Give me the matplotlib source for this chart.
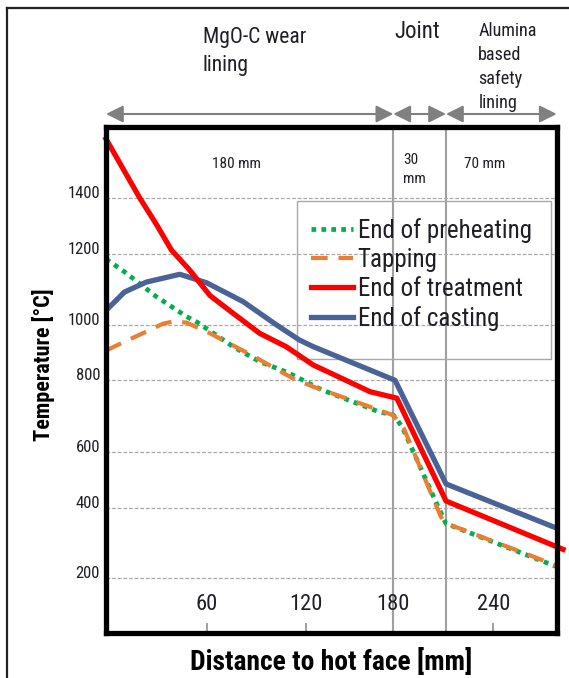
import numpy as np
import matplotlib
matplotlib.use('Agg')
import matplotlib.pyplot as plt
from matplotlib import font_manager as fm
from matplotlib.lines import Line2D
from matplotlib.patches import Rectangle

# ---------------- font ----------------
_available = {f.name for f in fm.fontManager.ttflist}
_narrow = [n for n in ['Roboto Condensed', 'Liberation Sans Narrow', 'Arial Narrow'] if n in _available]
if _narrow:
    BASE_FONT, FS = _narrow[0], 1.0
else:
    BASE_FONT, FS = 'Liberation Sans', 0.83
plt.rcParams['font.family'] = [BASE_FONT, 'DejaVu Sans']

# ---------------- data ----------------
DIST_TREATMENT = [0, 10, 20, 30, 39, 50, 62, 76, 92, 108, 125, 145, 164, 182, 210, 284]
TEMP_TREATMENT = [1610, 1505, 1400, 1305, 1213, 1153, 1082, 1032, 969, 921, 855, 806, 768, 750, 424, 282]

DIST_CASTING = [0, 11, 24, 44, 60, 82, 102, 116, 125, 181, 210, 280]
TEMP_CASTING = [1040, 1092, 1120, 1142, 1118, 1065, 1000, 945, 921, 800, 485, 342]

DIST_PREHEAT = [0, 11, 30, 48, 55, 76, 92, 109, 131, 170, 180, 185, 205, 210, 280]
TEMP_PREHEAT = [1185, 1149, 1079, 1023, 1005, 921, 867, 828, 773, 712, 703, 670, 410, 355, 233]

DIST_TAPPING = [0, 9, 24, 34, 40, 48, 62, 87, 112, 125, 170, 180, 186, 207, 210, 280]
TEMP_TAPPING = [907, 933, 975, 1003, 1009, 1006, 969, 891, 807, 782, 717, 702, 665, 375, 356, 236]

SERIES_LABELS = ['End of preheating', 'Tapping', 'End of treatment', 'End of casting']

X_TICKS = [60, 120, 180, 240]
Y_TICKS = [200, 400, 600, 800, 1000, 1200, 1400]

LAYER_BOUNDS = [0, 180, 210, 280]
LAYER_NAMES = ['MgO-C wear\nlining', 'Joint', 'Alumina\nbased\nsafety\nlining']
LAYER_THICKNESS = ['180 mm', '30\nmm', '70 mm']

# ---------------- scale (the source graphic has uneven axis spacing) ----------------
W, H = 569, 678
X_ANCHOR_MM = [0, 60, 120, 180, 210, 280]
X_ANCHOR_PX = [106, 206.7, 306, 393.3, 446, 556.7]
Y_ANCHOR_T = [200, 400, 600, 800, 1000, 1200, 1400]
Y_ANCHOR_PX = [578.3, 507.7, 451.7, 380.3, 324.7, 253.7, 197.7]


def piecewise(src, dst):
    src = np.asarray(src, float)
    dst = np.asarray(dst, float)
    lo = (dst[1] - dst[0]) / (src[1] - src[0])
    hi = (dst[-1] - dst[-2]) / (src[-1] - src[-2])

    def f(v):
        v = np.asarray(v, float)
        out = np.interp(v, src, dst)
        out = np.where(v < src[0], dst[0] + (v - src[0]) * lo, out)
        out = np.where(v > src[-1], dst[-1] + (v - src[-1]) * hi, out)
        return out
    return f


x_fwd = piecewise(X_ANCHOR_MM, X_ANCHOR_PX)
x_inv = piecewise(X_ANCHOR_PX, X_ANCHOR_MM)
y_fwd = piecewise(Y_ANCHOR_T, -np.asarray(Y_ANCHOR_PX))
y_inv = piecewise(-np.asarray(Y_ANCHOR_PX), Y_ANCHOR_T)

AX_L, AX_R, AX_T, AX_B = 106, 556.7, 127, 633
AXW, AXH = AX_R - AX_L, AX_B - AX_T

fig = plt.figure(figsize=(W / 100, H / 100), dpi=100)
ax = fig.add_axes([AX_L / W, 1 - AX_B / H, AXW / W, AXH / H])
ax.set_facecolor('white')
ax.set_xscale('function', functions=(x_fwd, x_inv))
ax.set_yscale('function', functions=(y_fwd, y_inv))
ax.set_xlim(LAYER_BOUNDS[0], LAYER_BOUNDS[-1])
ax.set_ylim(float(y_inv(-AX_B)), float(y_inv(-AX_T)))

TXT = '#1e1e24'

# grid + layer boundaries
ax.set_yticks(Y_TICKS, labels=[str(v) for v in Y_TICKS], va='baseline')
ax.grid(axis='y', color='#a8a8a8', lw=0.9, ls=(0, (3, 1.5)), zorder=0)
for b in LAYER_BOUNDS[1:-1]:
    ax.axvline(b, color='#a0a0a0', lw=1.5, zorder=1)

# series
l_pre, = ax.plot(DIST_PREHEAT, TEMP_PREHEAT, color='#00B050', lw=3.4,
                 ls=(0, (1, 1.1)), dash_capstyle='butt', zorder=3)
l_tap, = ax.plot(DIST_TAPPING, TEMP_TAPPING, color='#ED7D31', lw=3.0,
                 ls=(0, (4, 2.6)), dash_capstyle='butt', zorder=4)
l_cast, = ax.plot(DIST_CASTING, TEMP_CASTING, color='#4A6396', lw=3.8, zorder=5,
                  solid_joinstyle='round')
l_treat, = ax.plot(DIST_TREATMENT, TEMP_TREATMENT, color='#FF0000', lw=3.8, zorder=6,
                   clip_on=False, solid_joinstyle='round')

# axes styling
for s in ax.spines.values():
    s.set_linewidth(3.8)
    s.set_color('black')
    s.set_zorder(7)

ax.set_xticks(X_TICKS, labels=[str(v) for v in X_TICKS])
ax.tick_params(axis='x', direction='in', length=7, width=1.4, color='#a0a0a0',
               labelsize=16.2 * FS, labelcolor=TXT, pad=-27.9)
ax.tick_params(axis='y', length=0, labelsize=12 * FS, labelcolor=TXT, pad=4.3)

ax.set_xlabel('Distance to hot face [mm]', fontsize=19.8 * FS, fontweight='bold',
              labelpad=11, color='black')
ax.set_ylabel('Temperature [°C]', fontsize=16 * FS, fontweight='bold', color='black')
ax.yaxis.set_label_coords((55 - AX_L) / AXW, (AX_B - 365) / AXH)

# legend
LEG_FS = 18 * FS
leg = ax.legend([l_pre, l_tap, l_treat, l_cast], SERIES_LABELS, loc='upper left',
                bbox_to_anchor=((310.7 - AX_L) / AXW, (AX_B - 218) / AXH),
                frameon=False, fontsize=LEG_FS, handlelength=42.6 / (LEG_FS / 0.72),
                handletextpad=0.17, labelspacing=0.2, borderpad=0, borderaxespad=0)
for t in leg.get_texts():
    t.set_color(TXT)
ax.add_patch(Rectangle(((296.7 - AX_L) / AXW, (AX_B - 359.3) / AXH),
                       (550.7 - 296.7) / AXW, (359.3 - 200.7) / AXH,
                       transform=ax.transAxes, fill=False, ec='#a8a8a8', lw=1.0, zorder=2))

# layer arrows above the axes
ARROW_Y = 1 - 114 / H
for a, b in zip(LAYER_BOUNDS[:-1], LAYER_BOUNDS[1:]):
    ax.annotate('', xy=(b, ARROW_Y), xytext=(a, ARROW_Y),
                xycoords=('data', 'figure fraction'), textcoords=('data', 'figure fraction'),
                annotation_clip=False,
                arrowprops=dict(arrowstyle='<|-|>', color='#808080', lw=1.5,
                                shrinkA=0, shrinkB=0, mutation_scale=26))


# layer names / thicknesses: one text per line, y = baselines in pixels from top
def ft(xpx, baselines, s, size):
    for line, ypx in zip(s.split('\n'), baselines):
        fig.text(xpx / W, 1 - ypx / H, line, fontsize=size * FS, color=TXT,
                 ha='left', va='baseline')


ft(202.7, [43.3, 70.7], LAYER_NAMES[0], 15.5)
ft(394, [38.3], LAYER_NAMES[1], 16.5)
ft(478.3, [36, 59.6, 83.5, 107.5], LAYER_NAMES[2], 13.1)
ft(211.7, [167.7], LAYER_THICKNESS[0], 11)
ft(403.3, [164, 183.3], LAYER_THICKNESS[1], 11)
ft(464, [167.7], LAYER_THICKNESS[2], 11)

# outer border of the source figure
fig.add_artist(Line2D([6.5 / W, 6.5 / W], [0, 1 - 8 / H], transform=fig.transFigure,
                      color='#222222', lw=1.6))
fig.add_artist(Line2D([6.5 / W, 1], [1 - 8 / H, 1 - 8 / H], transform=fig.transFigure,
                      color='#222222', lw=1.6))

fig.savefig('out.png', dpi=100)
